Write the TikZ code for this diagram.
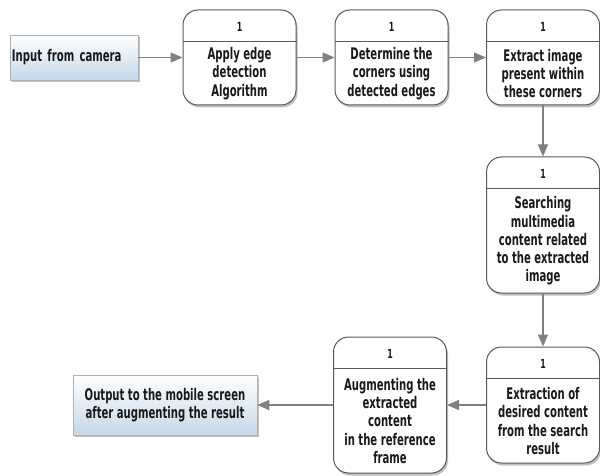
\documentclass[tikz,border=0pt]{standalone}
\usepackage{fontspec}
\setmainfont{DejaVu Sans}[FakeStretch=0.63]
\usetikzlibrary{arrows.meta,shadows,calc}

\tikzset{
  proc/.style={draw=black!65, line width=1pt, rounded corners=15pt, fill=white,
    minimum width=113pt,
    drop shadow={shadow xshift=1.5pt, shadow yshift=-2.5pt, fill=black!50}},
  io/.style={draw=black!30, line width=0.6pt, top color=white,
    bottom color={rgb,255:red,196;green,216;blue,232}, align=center,
    drop shadow={shadow xshift=1.5pt, shadow yshift=-2pt, fill=black!50}},
  divider/.style={draw=black!65, line width=0.8pt},
  num/.style={font=\bfseries\fontsize{12.5}{15}\selectfont},
  body/.style={align=center},
  flow/.style={draw=black!50, line width=1.5pt, -{Triangle[length=12pt,width=10pt]}}
}

\begin{document}
\begin{tikzpicture}[x=1pt, y=-1pt, font=\bfseries\fontsize{16}{18.3}\selectfont, text=black!90]
	\useasboundingbox (0,0) rectangle (600,476);

	% boxes
	\node[io, align=left, text width=124pt, inner xsep=2pt, minimum height=45pt] (camera) at (74,57.5) {Input from camera};
	\node[proc, minimum height=95pt] (edge) at (239.5,57.5) {};
	\node[proc, minimum height=95pt] (corners) at (391.5,57.5) {};
	\node[proc, minimum height=95pt] (extract) at (543,57.5) {};
	\node[proc, minimum height=136pt] (search) at (543,225) {};
	\node[proc, minimum height=116pt] (content) at (543,405) {};
	\node[proc, minimum height=136pt] (augment) at (390,405) {};
	\node[io, minimum width=184pt, minimum height=60pt] (screen) at (165,405)
		{Output to the mobile screen\\after augmenting the result};

	% number and divider of each box
	\foreach \b in {edge,corners,extract,search,content,augment} {
		\node[num] (\b-num) at ([yshift=-17pt]\b.north) {1};
		\draw[divider] ([yshift=-32pt]\b.north west) -- ([yshift=-32pt]\b.north east);
	}

	% texts
	\node[body] (edge-text) at ($(edge.south)!.5!([yshift=-32pt]edge.north)$) {Apply edge\\detection\\Algorithm};
	\node[body] (corners-text) at ($(corners.south)!.5!([yshift=-32pt]corners.north)$) {Determine the\\corners using\\detected edges};
	\node[body] (extract-text) at ($(extract.south)!.5!([yshift=-32pt]extract.north)$) {Extract image\\present within\\these corners};
	\node[body] (search-text) at ($(search.south)!.5!([yshift=-32pt]search.north)$) {Searching\\multimedia\\content related\\to the extracted\\image};
	\node[body] (content-text) at ($(content.south)!.5!([yshift=-32pt]content.north)$) {Extraction of\\desired content\\from the search\\result};
	\node[body] (augment-text) at ($(augment.south)!.5!([yshift=-32pt]augment.north)$) {Augmenting the\\extracted\\content\\in the reference\\frame};

	% arrows
	\draw[flow] (camera) -- (edge);
	\draw[flow] (edge) -- (corners);
	\draw[flow] (corners) -- (extract);
	\draw[flow] (extract) -- (search);
	\draw[flow] (search) -- (content);
	\draw[flow] (content) -- (augment);
	\draw[flow] (augment) -- (screen);
\end{tikzpicture}
\end{document}
